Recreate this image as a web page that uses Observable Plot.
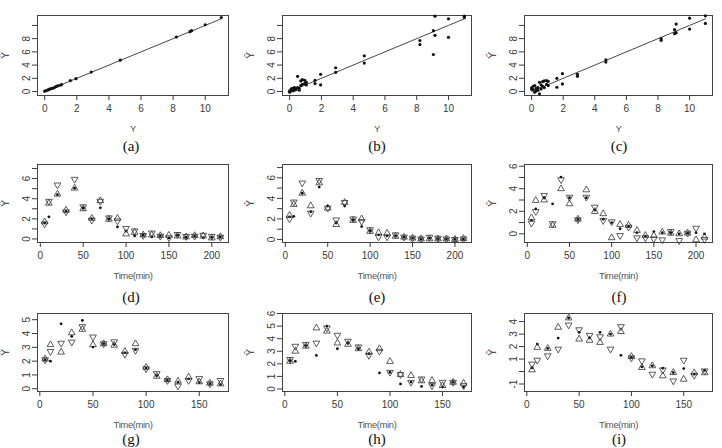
<!DOCTYPE html>
<html><head><meta charset="utf-8">
<script src="https://cdn.jsdelivr.net/npm/d3@7"></script>
<script src="https://cdn.jsdelivr.net/npm/@observablehq/plot@0.6"></script>
<style>
body{margin:0;background:#fff;}
#wrap{position:relative;width:722px;height:448px;overflow:hidden;background:#fff;}
.p{position:absolute;}
.cap{position:absolute;font-family:"Liberation Serif","Times New Roman",serif;font-size:15px;line-height:17px;color:#111;transform:translateX(-50%);white-space:nowrap;}
.xt{letter-spacing:-0.4px;}
</style></head><body><div id="wrap"></div>
<script>
// ---------- Row 1: observed Y vs predicted Y-hat ----------
const obsY   = [0, 0.1, 0.2, 0.3, 0.4, 0.5, 0.6, 0.7, 0.8, 0.95, 1.05, 1.6, 1.95, 2.9, 4.7, 8.2, 9.05, 9.15, 10.0, 11.0];
const predA  = [0.05, 0.15, 0.25, 0.35, 0.45, 0.5, 0.6, 0.75, 0.85, 0.95, 1.05, 1.65, 1.95, 2.95, 4.75, 8.25, 9.05, 9.2, 10.1, 11.2];
const predB1 = [0.1, 0.2, 0.5, 0.6, 0.5, 2.3, 0.2, 1.6, 1.8, 1.7, 1.4, 1.7, 2.6, 3.6, 5.4, 7.7, 9.2, 11.4, 11.0, 11.4];
const predB2 = [-0.1, 0.4, 0.1, 0.2, 0.3, 0.6, 0.5, 0.9, 1.1, 1.2, 1.0, 1.2, 1.0, 2.9, 4.3, 7.1, 5.6, 8.5, 8.2, 11.2];
const predC1 = [0.55, 0.8, 0.9, 0.5, 0.2, -0.35, 1.0, 1.5, 1.6, 1.65, 1.55, 2.0, 2.7, 2.6, 4.8, 8.0, 9.35, 10.2, 11.1, 11.45];
const predC2 = [0.35, 0.3, -0.1, 0.1, 0.6, 1.4, 0.4, 0.8, 0.6, 1.1, 0.9, 0.65, 1.15, 2.3, 4.45, 7.75, 8.75, 8.9, 9.45, 10.3];

// ---------- Row 2: time series (0-210 min) ----------
const times1 = [5, 10, 20, 30, 40, 50, 60, 70, 80, 90, 100, 110, 120, 130, 140, 150, 160, 170, 180, 190, 200, 210];
const dObs  = [1.6, 2.2, 4.4, 2.75, 5.05, 3.1, 2.0, 3.1, 2.0, 1.2, 0.8, 0.3, 0.37, 0.2, 0.3, 0.1, 0.37, 0.17, 0.3, 0.13, 0.15, 0.2];
const dUp   = [1.7, 3.55, 4.45, 2.85, 5.05, 3.0, 2.05, 3.8, 1.95, 2.05, 0.5, 0.65, 0.4, 0.4, 0.33, 0.37, 0.3, 0.2, 0.33, 0.3, 0.1, 0.22];
const dDown = [1.5, 3.75, 5.37, 2.7, 5.93, 3.2, 1.87, 3.75, 2.1, 1.8, 1.05, 0.8, 0.35, 0.6, 0.28, 0.13, 0.45, 0.25, 0.28, 0.37, 0.27, 0.18];
const eObs  = [2.2, 2.25, 4.5, 2.7, 5.1, 3.25, 1.6, 3.25, 1.9, 1.25, 0.85, 0.45, 0.35, 0.35, 0.22, 0.13, 0.05, 0.12, 0.08, 0.05, 0.0, 0.05];
const eUp   = [2.35, 3.4, 4.5, 3.27, 5.5, 3.05, 1.45, 3.6, 1.85, 2.0, 0.78, 0.65, 0.6, 0.3, 0.22, 0.13, 0.05, 0.05, 0.05, 0.05, 0.0, 0.08];
const eDown = [2.0, 3.65, 5.5, 2.56, 5.75, 3.05, 1.9, 3.6, 2.0, 1.75, 0.95, 0.25, 0.25, 0.45, 0.22, 0.13, 0.05, 0.22, 0.12, 0.05, 0.0, 0.05];
const fObs  = [1.2, 2.2, 3.2, 2.66, 5.03, 3.2, 1.27, 3.2, 2.1, 1.3, 1.0, 0.45, 0.65, 0.1, -0.2, 0.2, 0.1, 0.1, 0.0, 0.06, 0.1, 0.0];
const fUp   = [1.42, 2.96, 3.0, 0.75, 4.0, 2.66, 1.3, 3.9, 1.98, 1.78, -0.35, 0.83, 0.75, 0.3, -0.15, -0.15, 0.15, 0.05, 0.0, 0.06, -0.53, -0.3];
const fDown = [0.95, 1.98, 3.4, 0.9, 4.8, 3.25, 1.25, 3.25, 2.37, 1.18, 1.07, -0.15, 0.6, -0.35, -0.35, -0.45, -0.53, 0.2, -0.6, 0.06, 0.5, -0.5];

// ---------- Row 3: time series (0-170 min) ----------
const times2 = [5, 10, 20, 30, 40, 50, 60, 70, 80, 90, 100, 110, 120, 130, 140, 150, 160, 170];
const gObs  = [2.1, 2.0, 4.7, 3.8, 4.95, 3.02, 3.26, 3.2, 2.6, 2.83, 1.5, 0.95, 0.6, 0.48, 0.72, 0.45, 0.36, 0.3];
const gUp   = [2.15, 3.19, 2.65, 4.05, 4.3, 3.19, 3.26, 3.15, 2.7, 3.26, 1.55, 0.9, 0.65, 0.55, 0.85, 0.5, 0.4, 0.35];
const gDown = [2.1, 2.7, 3.3, 3.38, 4.5, 3.75, 3.26, 3.4, 2.5, 2.78, 1.45, 1.1, 0.6, 0.2, 0.6, 0.75, 0.36, 0.6];
const hObs  = [2.25, 2.2, 3.45, 2.67, 5.0, 3.2, 3.65, 3.2, 2.8, 1.28, 1.33, 0.4, 0.55, 0.2, 0.3, 0.15, 0.53, 0.15];
const hUp   = [2.2, 3.0, 3.4, 4.85, 4.6, 3.65, 3.55, 3.2, 2.93, 3.2, 2.19, 1.15, 1.07, 0.65, 0.67, 0.27, 0.53, 0.45];
const hDown = [2.35, 3.4, 3.55, 3.65, 4.85, 4.27, 3.8, 3.35, 2.67, 3.0, 1.33, 1.15, 0.53, 0.8, 0.27, 0.53, 0.53, 0.27];
const iObs  = [0.3, 2.2, 1.85, 2.68, 4.29, 3.14, 2.7, 3.14, 3.0, 1.3, 1.13, 0.38, 0.46, 0.27, -0.08, 0.24, -0.2, 0.1];
const iUp   = [0.13, 1.93, 1.85, 3.54, 4.29, 2.6, 2.5, 2.33, 3.0, 3.2, 1.2, 0.32, 0.46, -0.35, -0.08, -0.62, -0.1, -0.1];
const iDown = [0.6, 0.91, 1.26, 1.8, 3.73, 3.35, 2.9, 2.79, 1.8, 3.6, 1.1, 0.86, -0.21, 0.13, -0.75, 0.91, -0.3, 0.05];

// ---------- tick / label text ----------
const xTicksR1 = [0, 2, 4, 6, 8, 10];
const xTicksR2 = [0, 50, 100, 150, 200];
const xTicksR3 = [0, 50, 100, 150];
const captions = ["(a)", "(b)", "(c)", "(d)", "(e)", "(f)", "(g)", "(h)", "(i)"];
const xTitleR1 = "Y";
const xTitleTime = "Time(min)";
const yTitle = "\u0176";

// ---------- layout ----------
const colX0 = [37, 282, 524], colX1 = [228, 471, 712];
const rowY0 = [15, 164, 313], rowY1 = [95, 242, 391];
const capX = [131, 377, 619], capY = [146, 297, 439];
const ML = 40, MR = 8, MT = 10, MB = 45;
const wrap = document.getElementById("wrap");
const INK = "#3a3a3a";

function panel(col, row, opts) {
  const w = colX1[col] - colX0[col] + ML + MR;
  const h = rowY1[row] - rowY0[row] + MT + MB;
  const chart = Plot.plot({
    width: w, height: h,
    marginLeft: ML, marginRight: MR, marginTop: MT, marginBottom: MB,
    x: {domain: opts.xDomain}, y: {domain: opts.yDomain},
    style: {fontFamily: "'Liberation Sans', Arial, sans-serif", fontSize: "10px", color: INK, background: "transparent", overflow: "visible"},
    marks: [
      Plot.frame({stroke: "#444", strokeWidth: 1}),
      Plot.axisX({ticks: opts.xTicks, tickSize: 5, tickPadding: 4, label: null, tickFormat: d => String(d)}),
      Plot.axisY({ticks: opts.yTicks, tickSize: 5, label: null, tickFormat: () => ""}),
      Plot.text(opts.yLabels, {y: d => d, text: d => String(d), frameAnchor: "left", dx: -11, rotate: -90, textAnchor: "middle", lineAnchor: "middle", fill: INK}),
      Plot.text([opts.xTitle], {text: d => d, frameAnchor: "bottom", dy: 33, lineAnchor: "middle", fill: "#555",
        fontFamily: "'Liberation Sans', Arial, sans-serif", fontSize: 9.5, className: "xt"}),
      Plot.text([yTitle], {text: d => d, frameAnchor: "left", dx: -32, rotate: -90, lineAnchor: "middle", textAnchor: "middle",
        fill: "#555", fontSize: 11, fontFamily: "'DejaVu Sans', sans-serif"}),
      ...opts.marks
    ]
  });
  chart.classList.add("p");
  chart.style.left = (colX0[col] - ML) + "px";
  chart.style.top = (rowY0[row] - MT) + "px";
  wrap.appendChild(chart);
  const cap = document.createElement("div");
  cap.className = "cap";
  cap.textContent = captions[row * 3 + col];
  cap.style.left = capX[col] + "px";
  cap.style.top = (capY[row] - 8) + "px";
  wrap.appendChild(cap);
}

function scatterMarks(preds) {
  return [
    Plot.line(obsY, {x: d => d, y: d => d, stroke: "#333", strokeWidth: 0.9}),
    ...preds.map(p => Plot.dot(obsY, {x: d => d, y: (d, i) => p[i], r: 1.6, fill: "#111", stroke: "none"}))
  ];
}
function timeMarks(times, obs, up, down) {
  return [
    Plot.dot(times, {x: d => d, y: (d, i) => obs[i], r: 1.4, fill: "#111", stroke: "none"}),
    Plot.dot(times, {x: d => d, y: (d, i) => up[i], symbol: "triangle", r: 2.5, fill: "none", stroke: "#333", strokeWidth: 0.8}),
    Plot.dot(times, {x: d => d, y: (d, i) => down[i], symbol: "triangle", rotate: 180, r: 2.5, fill: "none", stroke: "#333", strokeWidth: 0.8})
  ];
}

const r1 = {xDomain: [-0.45, 11.45], yDomain: [-0.6, 11.5], xTicks: xTicksR1, yTicks: [0, 2, 4, 6, 8, 10], yLabels: [0, 2, 4, 6, 8], xTitle: xTitleR1};
panel(0, 0, {...r1, marks: scatterMarks([predA])});
panel(1, 0, {...r1, marks: scatterMarks([predB1, predB2])});
panel(2, 0, {...r1, marks: scatterMarks([predC1, predC2])});

const r2 = {xDomain: [-3.3, 219.5], xTicks: xTicksR2, xTitle: xTitleTime};
panel(0, 1, {...r2, yDomain: [-0.35, 7.4], yTicks: [0,1,2,3,4,5,6,7], yLabels: [0, 2, 4, 6], marks: timeMarks(times1, dObs, dUp, dDown)});
panel(1, 1, {...r2, yDomain: [-0.3, 7.3], yTicks: [0,1,2,3,4,5,6,7], yLabels: [0, 2, 4, 6], marks: timeMarks(times1, eObs, eUp, eDown)});
panel(2, 1, {...r2, yDomain: [-0.77, 6.15], yTicks: [0,1,2,3,4,5,6], yLabels: [0, 2, 4, 6], marks: timeMarks(times1, fObs, fUp, fDown)});

const r3 = {xDomain: [-2.2, 177.5], xTicks: xTicksR3, xTitle: xTitleTime};
panel(0, 2, {...r3, yDomain: [-0.2, 5.45], yTicks: [0,1,2,3,4,5], yLabels: [0,1,2,3,4,5], marks: timeMarks(times2, gObs, gUp, gDown)});
panel(1, 2, {...r3, yDomain: [-0.2, 6.0], yTicks: [0,1,2,3,4,5,6], yLabels: [0,1,2,3,4,5,6], marks: timeMarks(times2, hObs, hUp, hDown)});
panel(2, 2, {...r3, yDomain: [-1.6, 4.65], yTicks: [-1,0,1,2,3,4], yLabels: [-1,1,2,3,4], marks: timeMarks(times2, iObs, iUp, iDown)});
</script>
</body></html>
